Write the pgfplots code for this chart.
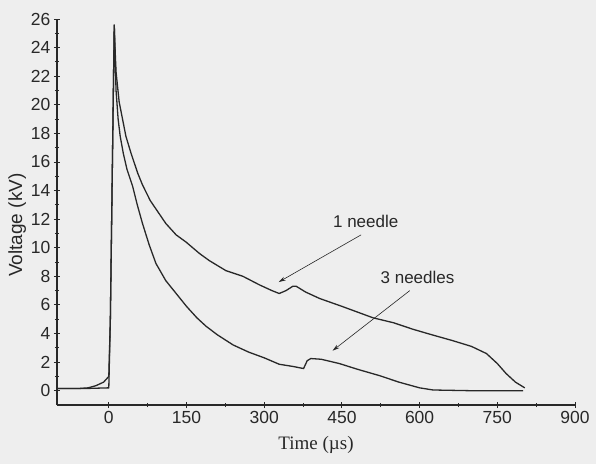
\documentclass[border=0pt]{standalone}
\usepackage{fontspec}
\setmainfont{Liberation Sans}
\newfontfamily\timesfont{Liberation Serif}
\usepackage{pgfplots}
\pgfplotsset{compat=1.18}
\usetikzlibrary{arrows.meta}
\definecolor{bg}{RGB}{238,238,238}
\definecolor{ink}{RGB}{40,40,40}

\begin{document}
\begin{tikzpicture}
\fill[bg] (-57pt,-59pt) rectangle (539pt,405pt);
\begin{axis}[
    at={(0,0)}, anchor=south west,
    scale only axis,
    width=518pt, height=386pt,
    xmin=-100, xmax=900,
    ymin=-1, ymax=26,
    axis lines*=left,
    axis line style={line width=1.1pt, ink},
    xtick={0,150,...,900},
    ytick={0,2,...,26},
    minor x tick num=1,
    minor y tick num=1,
    tick align=center,
    major tick length=6pt,
    minor tick length=4pt,
    tick style={line width=0.9pt, ink},
    ticklabel style={font=\fontsize{17.5}{20}\selectfont, text=ink},
    /pgf/number format/assume math mode=true,
    xlabel={\timesfont Time (µs)},
    ylabel={Voltage (kV)},
    label style={font=\fontsize{19}{22}\selectfont, text=ink},
    xlabel style={yshift=-6pt},
    ylabel style={at={(axis description cs:-0.077,0.466)}, anchor=center},
    clip=false,
]
% 1 needle
\addplot[ink, line width=1.3pt] coordinates {
    (-100,0.15) (-60,0.15) (-40,0.2) (-25,0.35) (-10,0.6) (0,1.0)
    (3,5) (10.5,25.6) (12,24) (14,22.3) (20,20.2) (33,17.8) (43,16.6)
    (56,15.2) (65,14.4) (80,13.3) (110,11.7) (130,10.9) (149,10.4)
    (175,9.6) (194,9.1) (226,8.4) (259,8.0) (291,7.4) (315,7.0)
    (329,6.8) (342,7.0) (355,7.3) (362,7.3) (380,6.9) (407,6.45)
    (450,5.9) (510,5.1) (550,4.75) (587,4.3) (620,3.95) (664,3.5)
    (700,3.1) (729,2.6) (750,1.9) (767,1.2) (785,0.6) (803,0.2)
};
% 3 needles
\addplot[ink, line width=1.3pt] coordinates {
    (-100,0.15) (-50,0.15) (0,0.2) (3,5) (10.5,25.6) (12,23.6)
    (14,21) (18,19) (22,17.8) (28,16.6) (35,15.5) (46,14.3) (55,13)
    (65,11.7) (78,10.2) (91,8.9) (110,7.7) (130,6.8) (150,5.9)
    (170,5.1) (188,4.5) (210,3.9) (240,3.2) (270,2.7) (300,2.3)
    (329,1.85) (355,1.7) (376,1.55) (383,2.1) (390,2.25) (410,2.2)
    (445,1.9) (480,1.5) (523,1.05) (560,0.6) (600,0.2) (626,0.05)
    (700,0.0) (760,0.0) (800,0.0)
};
\draw[-{Stealth[length=7pt,width=4pt]}, ink, line width=0.6pt]
    (axis cs:487,10.9) -- (axis cs:328,7.6);
\node[ink, font=\fontsize{17}{20}\selectfont] at (axis cs:496,11.85) {1 needle};
\draw[-{Stealth[length=7pt,width=4pt]}, ink, line width=0.6pt]
    (axis cs:581,7.0) -- (axis cs:432,2.8);
\node[ink, font=\fontsize{17}{20}\selectfont] at (axis cs:596,7.95) {3 needles};
\end{axis}
\pgfresetboundingbox
\path (-57pt,-59pt) rectangle (539pt,405pt);
\end{tikzpicture}
\end{document}
